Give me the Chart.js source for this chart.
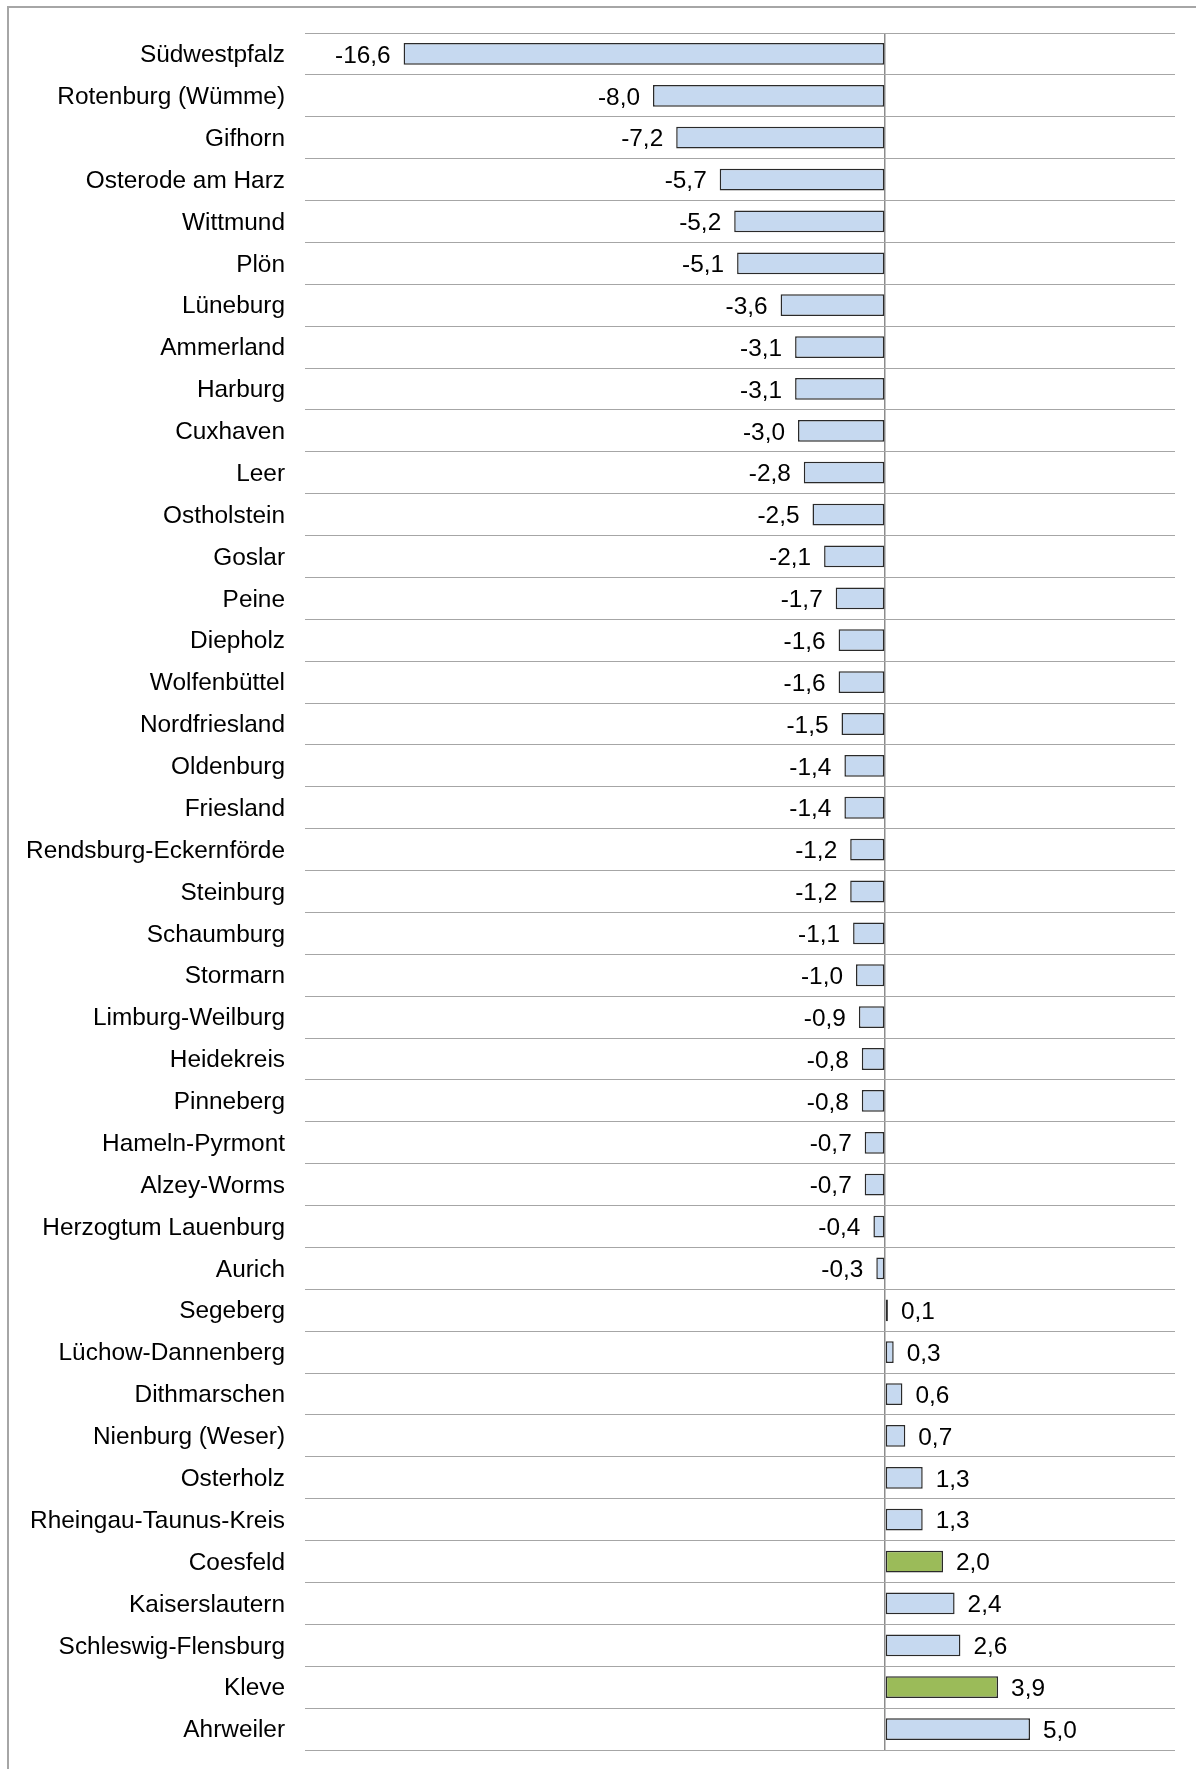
<!DOCTYPE html>
<html>
<head>
<meta charset="utf-8">
<script src="https://cdn.jsdelivr.net/npm/chart.js@4/dist/chart.umd.min.js"></script>
<style>
  html, body { margin: 0; padding: 0; background: #fff; overflow: hidden; }
  #wrap { position: relative; width: 1196px; height: 1769px; }
  #frame { position: absolute; left: 7px; top: 6px; width: 1300px; height: 1900px;
           border-left: 2px solid #a6a6a6; border-top: 2px solid #a6a6a6; box-sizing: border-box; }
  canvas { position: absolute; left: 0; top: 0; }
</style>
</head>
<body>
<div id="wrap">
  <div id="frame"></div>
  <canvas id="c" width="1196" height="1769"></canvas>
</div>
<script>
const categories = [
  'Südwestpfalz', 'Rotenburg (Wümme)', 'Gifhorn', 'Osterode am Harz', 'Wittmund', 'Plön',
  'Lüneburg', 'Ammerland', 'Harburg', 'Cuxhaven', 'Leer', 'Ostholstein', 'Goslar', 'Peine',
  'Diepholz', 'Wolfenbüttel', 'Nordfriesland', 'Oldenburg', 'Friesland', 'Rendsburg-Eckernförde',
  'Steinburg', 'Schaumburg', 'Stormarn', 'Limburg-Weilburg', 'Heidekreis', 'Pinneberg',
  'Hameln-Pyrmont', 'Alzey-Worms', 'Herzogtum Lauenburg', 'Aurich', 'Segeberg',
  'Lüchow-Dannenberg', 'Dithmarschen', 'Nienburg (Weser)', 'Osterholz', 'Rheingau-Taunus-Kreis',
  'Coesfeld', 'Kaiserslautern', 'Schleswig-Flensburg', 'Kleve', 'Ahrweiler'
];
const values = [
  -16.6, -8.0, -7.2, -5.7, -5.2, -5.1,
  -3.6, -3.1, -3.1, -3.0, -2.8, -2.5, -2.1, -1.7,
  -1.6, -1.6, -1.5, -1.4, -1.4, -1.2,
  -1.2, -1.1, -1.0, -0.9, -0.8, -0.8,
  -0.7, -0.7, -0.4, -0.3, 0.1,
  0.3, 0.6, 0.7, 1.3, 1.3,
  2.0, 2.4, 2.6, 3.9, 5.0
];
const highlighted = ['Coesfeld', 'Kleve'];
const xMin = -20, xMax = 10, xStep = 10;

const BLUE = '#c6d9f0', GREEN = '#9bbb59';
const FONT = '"Liberation Sans", Arial, sans-serif';
const fmt = v => v.toFixed(1).replace('.', ',');

const valueLabels = {
  id: 'valueLabels',
  afterDatasetsDraw(chart) {
    const ctx = chart.ctx;
    const meta = chart.getDatasetMeta(0);
    ctx.save();
    ctx.font = '24.4px ' + FONT;
    ctx.fillStyle = '#000';
    ctx.textBaseline = 'middle';
    meta.data.forEach((bar, i) => {
      const v = values[i];
      if (v < 0) { ctx.textAlign = 'right'; ctx.fillText(fmt(v), bar.x - 13, bar.y + 2); }
      else { ctx.textAlign = 'left'; ctx.fillText(fmt(v), bar.x + 13, bar.y + 2); }
    });
    ctx.restore();
  }
};

new Chart(document.getElementById('c'), {
  type: 'bar',
  data: {
    labels: categories,
    datasets: [{
      data: values,
      backgroundColor: categories.map(c => highlighted.includes(c) ? GREEN : BLUE),
      borderColor: '#2a2a2a',
      borderWidth: 1.5,
      borderSkipped: false,
      barPercentage: 0.52,
      categoryPercentage: 1
    }]
  },
  options: {
    indexAxis: 'y',
    responsive: false,
    animation: false,
    devicePixelRatio: 1,
    layout: { padding: { top: 33, bottom: 19, right: 21, left: 0 } },
    plugins: { legend: { display: false }, tooltip: { enabled: false } },
    scales: {
      x: {
        min: xMin, max: xMax,
        afterFit: s => { s.height = 0; s.paddingLeft = 0; s.paddingRight = 0; s.paddingTop = 0; s.paddingBottom = 0; },
        ticks: { display: false, stepSize: xStep, padding: 0 },
        border: { display: false },
        grid: {
          drawTicks: false,
          lineWidth: 1.5,
          color: c => (c.tick && c.tick.value === 0) ? '#8c8c8c' : 'rgba(0,0,0,0)'
        }
      },
      y: {
        afterFit: s => { s.width = 305; s.paddingTop = 0; s.paddingBottom = 0; },
        border: { display: false },
        grid: { drawTicks: false, color: '#a6a6a6', lineWidth: 1, offset: true },
        ticks: { autoSkip: false, padding: 20, labelOffset: 1.5, color: '#000', font: { family: FONT, size: 24.4 } }
      }
    }
  },
  plugins: [valueLabels]
});
</script>
</body>
</html>
